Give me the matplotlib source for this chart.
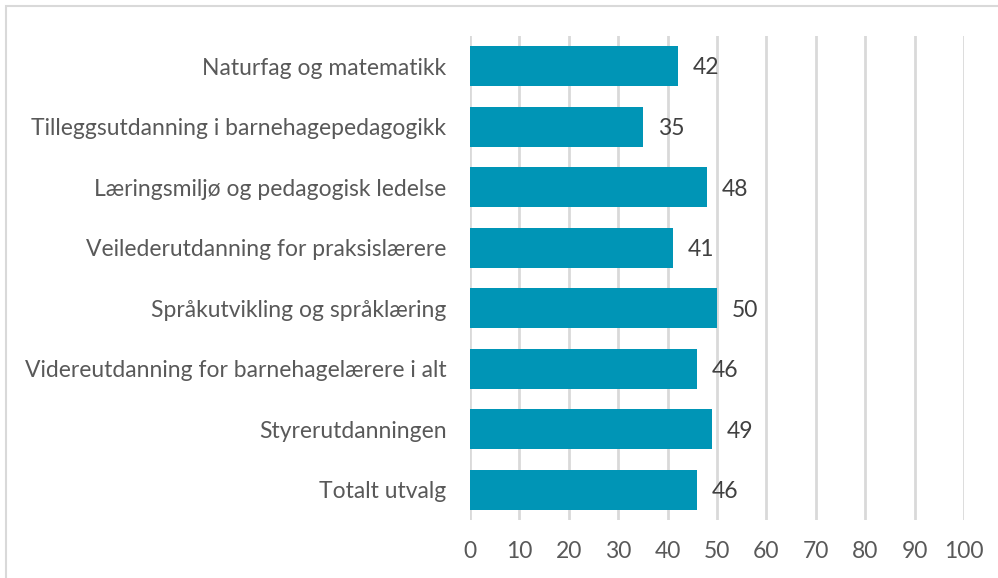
import matplotlib
matplotlib.use("Agg")
import matplotlib.pyplot as plt
from matplotlib.patches import Rectangle

categories = [
    "Naturfag og matematikk",
    "Tilleggsutdanning i barnehagepedagogikk",
    "Læringsmiljø og pedagogisk ledelse",
    "Veilederutdanning for praksislærere",
    "Språkutvikling og språklæring",
    "Videreutdanning for barnehagelærere i alt",
    "Styrerutdanningen",
    "Totalt utvalg",
]
values = [42, 35, 48, 41, 50, 46, 49, 46]
xticks = list(range(0, 101, 10))

plt.rcParams['font.family'] = ['Lato', 'DejaVu Sans']
fs = 16.5

fig = plt.figure(figsize=(9.98, 5.78), dpi=100)
ax = fig.add_axes([0.471, 0.100, 0.495, 0.838])

y = list(range(len(categories)))
ax.barh(y, values, height=0.66, color="#0095b6", zorder=3)
for yi, v in zip(y, values):
    ax.text(v + 3.0, yi + 0.03, str(v), va="center", ha="left", fontsize=fs, color="#404040")

ax.set_yticks(y)
ax.set_yticklabels(categories, fontsize=fs, color="#595959")
ax.set_xticks(xticks)
ax.set_xticklabels([str(t) for t in xticks], fontsize=fs, color="#595959")
ax.set_xlim(0, 100)
ax.set_ylim(len(categories) - 0.5, -0.5)
ax.tick_params(axis="both", length=0)
ax.tick_params(axis="y", pad=17)
ax.tick_params(axis="x", pad=15)
ax.grid(axis="x", color="#d9d9d9", linewidth=2, zorder=0)
for s in ax.spines.values():
    s.set_visible(False)

fig.patches.append(Rectangle((6 / 998, -0.1), 1.2, 1 - 6 / 578 + 0.1, transform=fig.transFigure,
                             fill=False, edgecolor="#d9d9d9", linewidth=1.5))

fig.savefig("out.png", dpi=100)
